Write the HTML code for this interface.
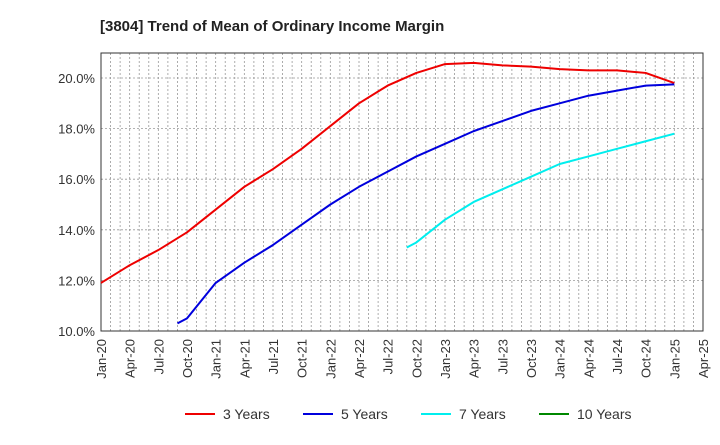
<!DOCTYPE html>
<html><head><meta charset="utf-8"><style>
body{margin:0;background:#fff;font-family:"Liberation Sans",sans-serif}
</style></head><body>
<svg id="c" width="720" height="440">
<text x="100" y="31" font-size="15" font-weight="bold" fill="#222">[3804]  Trend of Mean of Ordinary Income Margin</text>
<g id="grid"></g><g id="axes"></g><g id="series"></g><g id="legend"></g>
</svg>
<script>
const xLabels=["Jan-20","Apr-20","Jul-20","Oct-20","Jan-21","Apr-21","Jul-21","Oct-21","Jan-22","Apr-22","Jul-22","Oct-22","Jan-23","Apr-23","Jul-23","Oct-23","Jan-24","Apr-24","Jul-24","Oct-24","Jan-25","Apr-25"];
const yTicks=[10,12,14,16,18,20];
const s3m=[0,3,6,9,12,15,18,21,24,27,30,33,36,39,42,45,48,51,54,57,60];
const s3v=[11.9,12.6,13.2,13.9,14.8,15.7,16.4,17.2,18.1,19.0,19.7,20.2,20.55,20.6,20.5,20.45,20.35,20.3,20.3,20.2,19.8];
const s5m=[8,9,12,15,18,21,24,27,30,33,36,39,42,45,48,51,54,57,60];
const s5v=[10.3,10.5,11.9,12.7,13.4,14.2,15.0,15.7,16.3,16.9,17.4,17.9,18.3,18.7,19.0,19.3,19.5,19.7,19.75];
const s7m=[32,33,36,39,42,45,48,51,54,57,60];
const s7v=[13.3,13.5,14.4,15.1,15.6,16.1,16.6,16.9,17.2,17.5,17.8];
const L=101,R=703,T=53,B=331;
const X=m=>L+m*(R-L)/63, Y=v=>B-(v-10)*(B-78)/10;
const NS="http://www.w3.org/2000/svg";
function mk(t,a,p){const e=document.createElementNS(NS,t);for(const k in a)e.setAttribute(k,a[k]);p.appendChild(e);return e;}
const g=document.getElementById('grid'),ax=document.getElementById('axes'),sg=document.getElementById('series'),lg=document.getElementById('legend');
for(let m=1;m<63;m++){const l=mk('line',{x1:X(m),x2:X(m),y1:T,y2:B,stroke:'#999','stroke-dasharray':'2,2','stroke-width':0.8},g);

}
yTicks.forEach(v=>{const l=mk('line',{x1:L,x2:R,y1:Y(v),y2:Y(v),stroke:'#999','stroke-dasharray':'2,2','stroke-width':0.8},g);


const t=mk('text',{x:L-6,y:Y(v)+5,'text-anchor':'end','font-size':13,fill:'#333'},ax);t.textContent=v.toFixed(1)+'%';

});
const fr=mk('rect',{x:L,y:T,width:R-L,height:B-T,fill:'none',stroke:'#333'},ax);


xLabels.forEach((s,i)=>{const x=X(i*3)+5;const t=mk('text',{x:x,y:B+8,'text-anchor':'end','font-size':13,fill:'#333',transform:`rotate(-90 ${x} ${B+8})`},ax);t.textContent=s;

});
function line(ms,vs,c,n){const p=mk('polyline',{points:ms.map((m,i)=>X(m)+','+Y(vs[i])).join(' '),fill:'none',stroke:c,'stroke-width':2,'stroke-linejoin':'round'},sg);

}
line(s3m,s3v,'#e00','series-3-years');line(s5m,s5v,'#00d','series-5-years');line(s7m,s7v,'#0ee','series-7-years');
[["3 Years","#e00",185],["5 Years","#00d",303],["7 Years","#0ee",421],["10 Years","#080",539]].forEach(([n,c,x])=>{
const e=mk('g',{},lg);


mk('line',{x1:x,x2:x+30,y1:414,y2:414,stroke:c,'stroke-width':2},e);
const t=mk('text',{x:x+38,y:419,'font-size':14,fill:'#333'},e);t.textContent=n;});
</script>
</body></html>
